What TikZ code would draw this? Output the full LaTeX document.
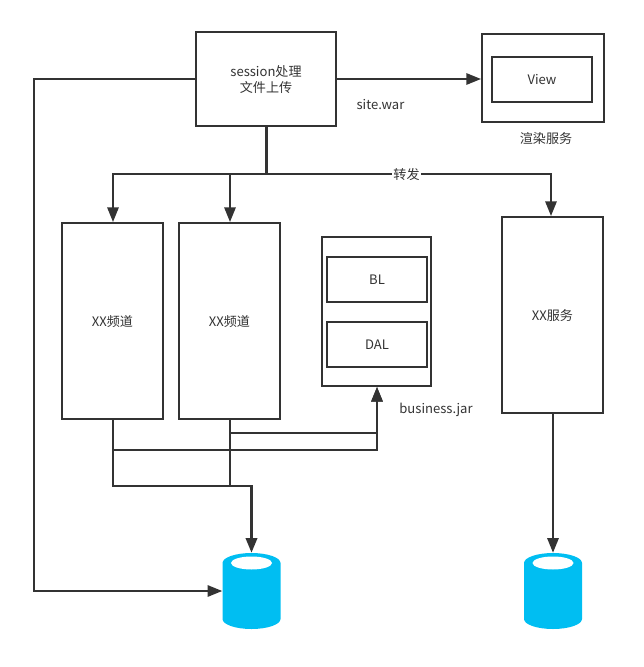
\documentclass[tikz,border=0pt]{standalone}
\usepackage{fontspec}
\setmainfont{Noto Sans CJK SC}
\usetikzlibrary{arrows.meta,positioning}
\definecolor{ink}{HTML}{333333}
\definecolor{dbblue}{HTML}{00BEF2}
\tikzset{
  x=0.75pt,y=-0.75pt,
  box/.style={draw=ink,line width=1.5pt,fill=white,inner sep=0pt},
  boxtext/.style={text=ink,inner sep=0pt,align=center,font=\fontsize{9.8pt}{12.6pt}\selectfont,yshift=-0.35pt},
  lbl/.style={text=ink,inner sep=0pt,font=\fontsize{9.8pt}{13pt}\selectfont},
  conn/.style={draw=ink,line width=1.5pt,line join=miter},
  arr/.style={conn,-{Triangle[length=11pt,width=8.5pt,fill=ink]}},
  dbanchor/.style={inner sep=0pt,minimum width=43.5pt,minimum height=57pt}
}
\newcommand{\mkbox}[6]{% name x0 y0 x1 y1 text
  \node[box,minimum width={(#4-#2)*0.75pt},minimum height={(#5-#3)*0.75pt},label={[boxtext]center:#6}] (#1) at ({(#2+#4)/2},{(#3+#5)/2}) {};
}
\newcommand{\mkdb}[2]{% name centre-x
  \fill[dbblue] (#2-29,563) arc[start angle=180,end angle=360,x radius=29,y radius=10]
     -- (#2+29,619) arc[start angle=0,end angle=180,x radius=29,y radius=10] -- cycle;
  \fill[white] (#2,563) ellipse[x radius=20.5,y radius=6.5];
  \node[dbanchor] (#1) at (#2,591) {};
}
\begin{document}
\begin{tikzpicture}
\useasboundingbox (0,0) rectangle (643,667);
\mkbox{sess}{196}{32}{336}{126}{session处理\\文件上传}
\mkbox{outer}{482}{34}{604}{122}{}
\mkbox{view}{492}{57}{592}{102}{View}
\mkbox{chA}{62}{223}{163}{419}{XX频道}
\mkbox{chB}{179}{223}{280}{419}{XX频道}
\mkbox{biz}{322}{237}{431}{386}{}
\mkbox{bl}{327}{257}{427}{302}{BL}
\mkbox{dal}{327}{322}{427}{367}{DAL}
\mkbox{svc}{502}{217}{603}{413}{XX服务}
\mkdb{dbA}{251.5}
\mkdb{dbB}{553}
\node[lbl] (war) at (380.5,105) {site.war};
\node[lbl] (rs) at (546,139) {渲染服务};
\node[lbl] (jar) at (436,409.5) {business.jar};
% junctions
\coordinate (fork) at (266,174);
\coordinate (join) at (230,486);
% session connectors
\draw[arr] (sess.east) -- (sess.east -| outer.west);
\draw[arr] (sess.west) -- (34,79) -- (34,591) -- (dbA.west);
\draw[conn,line width=2.25pt] (sess.south -| fork) -- (fork);
\draw[arr] (fork) -- (113,174) -- (chA.north -| 113,0);
\draw[arr] (230,174) -- (chB.north -| 230,0);
\draw[arr] (fork) -- (551,174) -- (svc.north -| 551,0);
\node[lbl,fill=white,inner xsep=1pt] (fw) at (406.5,174.5) {转发};
% channels to business.jar
\draw[arr] (chA.south -| 113,0) -- (113,450) -- (377,450) -- (biz.south -| 377,0);
\draw[arr] (chB.south -| 230,0) -- (230,433) -- (377,433) -- (biz.south -| 377,0);
% channels to database
\draw[conn] (chA.south -| 113,0) -- (113,486) -- (join);
\draw[conn] (chB.south -| 230,0) -- (join);
\draw[arr,line width=1.9pt] (join) -- (join -| dbA.north) -- (dbA.north);
% service to database
\draw[arr] (svc.south -| 553,0) -- (dbB.north);
\end{tikzpicture}
\end{document}
